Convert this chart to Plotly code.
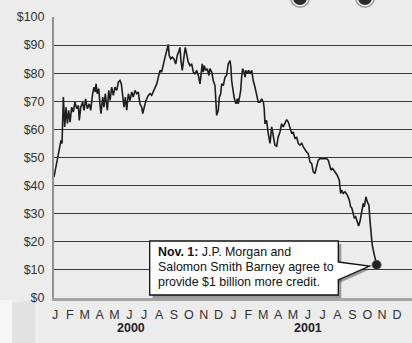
import plotly.graph_objects as go

# months since 1 Jan 2000 (fractional) and Enron share price in dollars
months = [
    0.43, 0.57, 0.72, 0.83, 0.90, 0.97, 1.02, 1.06, 1.15, 1.24,
    1.33, 1.42, 1.51, 1.62, 1.73, 1.84, 1.96, 2.07, 2.13, 2.23,
    2.36, 2.45, 2.56, 2.67, 2.80, 2.90, 3.03, 3.12, 3.21, 3.26,
    3.34, 3.44, 3.52, 3.59, 3.71, 3.79, 3.88, 3.97, 4.02, 4.11,
    4.20, 4.31, 4.42, 4.53, 4.65, 4.76, 4.87, 4.96, 5.05, 5.14,
    5.23, 5.32, 5.43, 5.54, 5.66, 5.76, 5.88, 5.99, 6.10, 6.21,
    6.33, 6.40, 6.50, 6.62, 6.77, 6.89, 7.00, 7.11, 7.22, 7.34,
    7.45,
    7.56, 7.67, 7.78, 7.90, 8.01, 8.12, 8.18, 8.28, 8.39, 8.50,
    8.62, 8.72, 8.84, 8.90, 8.97, 9.06, 9.17, 9.26, 9.35, 9.46,
    9.58, 9.69, 9.80, 9.91, 10.03, 10.14, 10.25, 10.32, 10.40, 10.47,
    10.54, 10.63, 10.74, 10.85, 10.92, 11.04, 11.14, 11.26, 11.33, 11.37,
    11.48, 11.55, 11.64, 11.71, 11.82, 11.93, 12.04, 12.15, 12.27, 12.33,
    12.38, 12.45, 12.54, 12.60, 12.67, 12.76, 12.82, 12.89, 12.99, 13.05,
    13.12, 13.21, 13.28, 13.34, 13.43, 13.52, 13.61, 13.73, 13.83, 13.95,
    14.06, 14.17, 14.28, 14.40, 14.51,
    14.57, 14.62, 14.73, 14.84, 14.96, 15.07, 15.18, 15.29, 15.41, 15.51,
    15.63, 15.74, 15.85, 15.97, 16.08, 16.19, 16.30, 16.42, 16.52, 16.64,
    16.75, 16.86, 16.97, 17.09, 17.20, 17.31, 17.42, 17.53, 17.65, 17.76,
    17.87, 17.98, 18.10, 18.20, 18.32, 18.54, 18.77, 18.88, 18.99, 19.06,
    19.17, 19.33, 19.48, 19.62, 19.71, 19.78, 19.89, 20.00, 20.16, 20.29,
    20.38, 20.47, 20.56, 20.63, 20.72, 20.83, 20.92, 21.01, 21.12, 21.23,
    21.30, 21.41, 21.50, 21.61, 21.68, 21.75, 21.82, 21.90, 22.02, 22.13,
]

price = [
    43.1, 46.7, 50.2, 53.2, 56.1, 55.0, 60.9, 71.5, 60.9, 67.9,
    62.1, 66.8, 62.6, 67.9, 66.2, 69.7, 67.4, 68.5, 63.2, 67.9,
    69.7, 66.8, 70.9, 67.4, 69.1, 66.8, 72.7, 75.0, 73.3, 76.2,
    72.7, 74.5, 69.1, 65.6, 71.5, 67.9, 72.7, 69.1, 66.8, 73.9,
    70.3, 75.0, 72.1, 75.0, 73.9, 76.8, 77.4, 76.2, 72.7, 67.9,
    71.5, 66.8, 72.7, 70.3, 73.3, 71.5, 73.9, 72.7, 73.3, 69.1,
    67.9, 65.6, 67.9, 70.3, 72.1, 72.7, 72.1, 73.3, 75.0, 76.2,
    78.6,
    81.0, 80.4, 83.3, 85.7, 88.0, 90.2, 86.3, 85.1, 85.7, 85.1,
    83.3, 86.3, 88.0, 89.2, 84.5, 81.0, 85.7, 89.2, 86.9, 83.9,
    82.7, 83.3, 80.4, 79.8, 81.0, 79.2, 76.2, 79.8, 83.3, 80.4,
    82.7, 81.0, 81.6, 79.2, 81.6, 80.4, 77.4, 75.6, 69.1, 65.0,
    66.8, 71.5, 72.7, 76.2, 75.6, 78.6, 79.2, 83.3, 84.5, 82.1,
    77.4, 73.9, 71.5, 70.3, 69.1, 70.9, 69.1, 70.9, 73.9, 78.6,
    81.6, 80.4, 78.6, 81.0, 79.8, 81.0, 79.8, 81.0, 77.4, 75.0,
    72.1, 69.7, 69.7, 70.9, 69.7,
    67.4, 62.0, 63.2, 58.5, 55.0, 60.9, 57.3, 54.4, 54.0, 57.3,
    59.1, 62.0, 60.9, 62.0, 63.5, 62.6, 60.9, 58.5, 59.1, 56.7,
    57.3, 55.0, 54.4, 55.0, 53.8, 52.6, 52.0, 51.4, 48.4, 47.9,
    44.9, 44.3, 46.7, 49.0, 49.6, 49.6, 49.6, 49.0, 46.7, 45.5,
    46.1, 44.9, 43.7, 41.9, 37.2, 38.4, 37.2, 37.8, 36.6, 34.9,
    32.5, 31.9, 30.1, 28.4, 28.9, 27.2, 25.6, 27.2, 30.1, 33.7,
    32.5, 36.0, 34.3, 33.0, 27.8, 21.8, 19.5, 17.1, 14.8, 11.8,
]

month_ticks = [0.5, 1.5, 2.5, 3.5, 4.5, 5.5, 6.5, 7.5, 8.5, 9.5, 10.5, 11.5,
               12.5, 13.5, 14.5, 15.5, 16.5, 17.5, 18.5, 19.5, 20.5, 21.5, 22.5, 23.5]
month_labels = ["J", "F", "M", "A", "M", "J", "J", "A", "S", "O", "N", "D",
                "J", "F", "M", "A", "M", "J", "J", "A", "S", "O", "N", "D"]
years = ["2000", "2001"]
year_pos = [5.6, 17.5]
price_ticks = [0, 10, 20, 30, 40, 50, 60, 70, 80, 90, 100]
price_labels = ["$0", "$10", "$20", "$30", "$40", "$50", "$60", "$70", "$80", "$90", "$100"]

callout_lines = ["<b>Nov. 1:</b> J.P. Morgan and",
                 "Salomon Smith Barney agree to",
                 "provide $1 billion more credit."]

assert len(months) == len(price)

FONT = "Arial, 'Liberation Sans', Helvetica, sans-serif"

fig = go.Figure()
fig.add_trace(go.Scatter(x=months, y=price, mode="lines",
                         line=dict(color="#1e1e1e", width=1.6),
                         hoverinfo="skip", showlegend=False))
fig.add_trace(go.Scatter(x=[months[-1]], y=[price[-1]], mode="markers",
                         marker=dict(color="#222222", size=9,
                                     line=dict(color="#555555", width=1)),
                         hoverinfo="skip", showlegend=False))

W, H = 412, 343
L, R, T, B = 54, 0, 17, 45
pw, ph = W - L - R, H - T - B


def px(X):
    return (X - L) / pw


def py(Y):
    return (H - B - Y) / ph


shapes = []
shapes.append(dict(type="rect", xref="paper", yref="paper", layer="below",
                   x0=px(0), x1=px(12), y0=py(343), y1=py(300),
                   fillcolor="rgba(255,255,255,0.55)", line=dict(width=0)))
# faint decoration bottom left
shapes.append(dict(type="path", xref="paper", yref="paper", layer="below",
                   path=f"M {px(12)} {py(303)} L {px(35)} {py(300)} L {px(35)} {py(343)} L {px(12)} {py(343)} Z",
                   fillcolor="#e2e2e2", line=dict(width=0)))
# icons cut off at top
for cx in (300, 365):
    shapes.append(dict(type="circle", xref="paper", yref="paper", layer="above",
                       x0=px(cx - 10), x1=px(cx + 10), y0=py(8), y1=py(-12),
                       fillcolor="#9a9a9a", line=dict(width=0)))
    shapes.append(dict(type="circle", xref="paper", yref="paper", layer="above",
                       x0=px(cx - 8.5), x1=px(cx + 8.5), y0=py(6.5), y1=py(-10.5),
                       fillcolor="#f2f2f2", line=dict(width=0)))
    shapes.append(dict(type="circle", xref="paper", yref="paper", layer="above",
                       x0=px(cx - 7), x1=px(cx + 7), y0=py(5), y1=py(-9),
                       fillcolor="#2a2a2a", line=dict(width=0)))

# callout shadow
bx0, bx1, by0, by1 = 149.7, 338.3, 241, 295
sh = 3
shapes.append(dict(type="rect", xref="paper", yref="paper", layer="above",
                   x0=px(bx0 + sh), x1=px(bx1 + sh), y0=py(by1 + sh), y1=py(by0 + sh),
                   fillcolor="rgba(70,70,70,0.5)", line=dict(width=0)))
tipx, tipy = 369.5, 266
shapes.append(dict(type="path", xref="paper", yref="paper", layer="above",
                   path=f"M {px(bx1 - 2)} {py(262 + sh)} L {px(tipx + 1)} {py(tipy + sh)} L {px(bx1 - 2 + sh)} {py(280 + sh)} Z",
                   fillcolor="rgba(70,70,70,0.5)", line=dict(width=0)))
# callout box
shapes.append(dict(type="rect", xref="paper", yref="paper", layer="above",
                   x0=px(bx0), x1=px(bx1), y0=py(by1), y1=py(by0),
                   fillcolor="white", line=dict(color="#111111", width=1.3)))
# callout pointer
shapes.append(dict(type="path", xref="paper", yref="paper", layer="above",
                   path=f"M {px(bx1 - 2)} {py(262)} L {px(tipx)} {py(tipy)} L {px(bx1 - 2)} {py(280)} Z",
                   fillcolor="white", line=dict(width=0)))
shapes.append(dict(type="path", xref="paper", yref="paper", layer="above",
                   path=f"M {px(bx1)} {py(262)} L {px(tipx)} {py(tipy)} L {px(bx1)} {py(280)}",
                   line=dict(color="#111111", width=1.3)))

annotations = []
for i, txt in enumerate(callout_lines):
    annotations.append(dict(text=txt, xref="paper", yref="paper",
                            x=px(156.2), y=py(252.3 + 14.7 * i),
                            xanchor="left", yanchor="middle", showarrow=False,
                            font=dict(family=FONT, size=12.4, color="#111111")))
for yr, pos in zip(years, year_pos):
    annotations.append(dict(text=f"<b>{yr}</b>", xref="x", yref="paper",
                            x=pos, y=py(328), xanchor="center", yanchor="middle",
                            showarrow=False,
                            font=dict(family=FONT, size=12.5, color="#222222")))

fig.update_layout(
    width=W, height=H,
    margin=dict(l=L, r=R, t=T, b=B, pad=0),
    paper_bgcolor="#ececec",
    plot_bgcolor="rgba(0,0,0,0)",
    shapes=shapes,
    annotations=annotations,
    xaxis=dict(range=[0.43, 24.51], tickvals=month_ticks, ticktext=month_labels,
               showgrid=False, zeroline=False, showline=True,
               linecolor="#a5a5a5", linewidth=3, ticks="", ticklabelstandoff=3,
               tickfont=dict(family=FONT, size=12.5, color="#333333"),
               fixedrange=True),
    yaxis=dict(range=[0, 100], tickvals=price_ticks, ticktext=price_labels,
               showgrid=True, gridcolor="#3a3a3a", gridwidth=1.3,
               zeroline=False, showline=True, linecolor="#909090", linewidth=2,
               ticks="", ticklabelstandoff=5,
               tickfont=dict(family=FONT, size=12.5, color="#333333"),
               fixedrange=True),
)

fig.write_html("out.html", config={"displayModeBar": False})
